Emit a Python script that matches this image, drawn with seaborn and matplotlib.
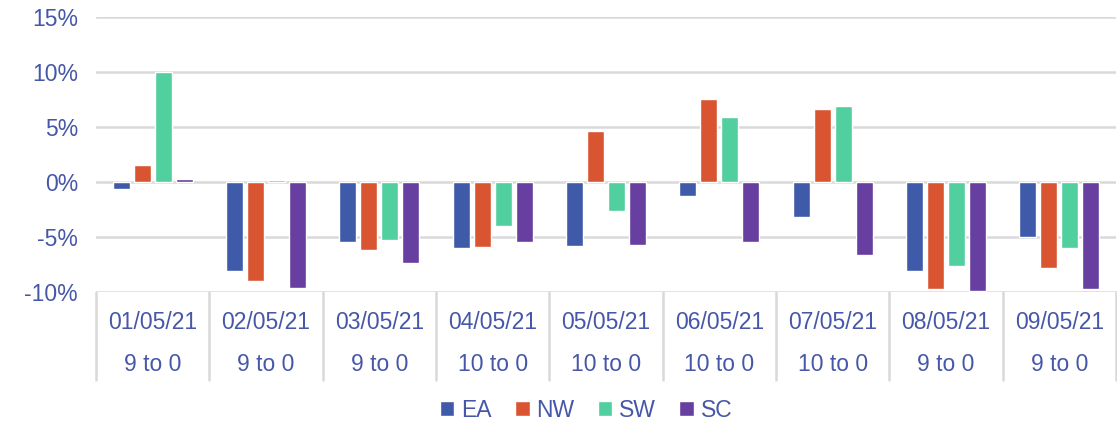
import matplotlib
matplotlib.use("Agg")
import matplotlib.pyplot as plt
import matplotlib.transforms as mtransforms
from matplotlib.patches import Patch
import pandas as pd
import seaborn as sns

# Chart data
dates = ["01/05/21", "02/05/21", "03/05/21", "04/05/21", "05/05/21",
         "06/05/21", "07/05/21", "08/05/21", "09/05/21"]
scores = ["9 to 0", "9 to 0", "9 to 0", "10 to 0", "10 to 0",
          "10 to 0", "10 to 0", "9 to 0", "9 to 0"]
regions = ["EA", "NW", "SW", "SC"]
ea = [-0.6, -8.1, -5.5, -6.0, -5.8, -1.3, -3.2, -8.1, -5.0]
nw = [1.5, -9.0, -6.2, -5.9, 4.6, 7.5, 6.6, -9.7, -7.8]
sw = [10.0, 0.2, -5.3, -4.0, -2.6, 5.9, 6.9, -7.6, -6.0]
sc = [0.3, -9.6, -7.4, -5.5, -5.7, -5.5, -6.6, -9.9, -9.7]
colors = ["#3F5AA8", "#D95532", "#52CF9E", "#673FA0"]
text_col = "#4657A8"
grid_col = "#D9D9D9"

df = pd.DataFrame({
    "date": dates * 4,
    "region": [r for r in regions for _ in dates],
    "value": ea + nw + sw + sc,
})

sns.set_style("white")
plt.rcParams["font.family"] = ["Liberation Sans", "DejaVu Sans"]
plt.rcParams["axes.unicode_minus"] = False

fig = plt.figure(figsize=(11.17, 4.23), dpi=100)
ax = fig.add_axes([96 / 1117, 1 - 292 / 423, 1020 / 1117, 275 / 423])

sns.barplot(data=df, x="date", y="value", hue="region", order=dates,
            hue_order=regions, palette=colors, width=0.74, gap=0.2,
            saturation=1, legend=False, ax=ax, zorder=3)

ax.set_ylim(-10, 15)
ax.set_xlim(-0.5, len(dates) - 0.5)
ax.set_yticks([-10, -5, 0, 5, 10, 15])
ax.set_yticklabels([f"{v}%" for v in [-10, -5, 0, 5, 10, 15]])
ax.yaxis.grid(True, color=grid_col, linewidth=1.8, zorder=0)
ax.set_axisbelow(True)
for s in ax.spines.values():
    s.set_visible(False)
ax.tick_params(axis="y", length=0, pad=13, labelsize=16.5, labelcolor=text_col)
ax.set_xticks([])
ax.set(xlabel="", ylabel="")

# two-level category axis
trans = mtransforms.blended_transform_factory(ax.transData, ax.transAxes)
for i, (d, s) in enumerate(zip(dates, scores)):
    ax.text(i, -0.11, d, transform=trans, ha="center", va="center",
            fontsize=16.5, color=text_col)
    ax.text(i, -0.265, s, transform=trans, ha="center", va="center",
            fontsize=16.5, color=text_col)
for b in range(len(dates) + 1):
    ax.plot([b - 0.5, b - 0.5], [0, -0.32], transform=trans, color=grid_col,
            linewidth=1.8, clip_on=False)

handles = [Patch(facecolor=c, label=r) for r, c in zip(regions, colors)]
fig.legend(handles=handles, loc="center", bbox_to_anchor=(586 / 1117, 1 - 410 / 423),
           ncol=4, frameon=False, fontsize=16.5, handlelength=0.65, handleheight=0.65,
           handletextpad=0.3, columnspacing=1.0, labelcolor=text_col)

fig.savefig("out.png", dpi=100, facecolor="white")
